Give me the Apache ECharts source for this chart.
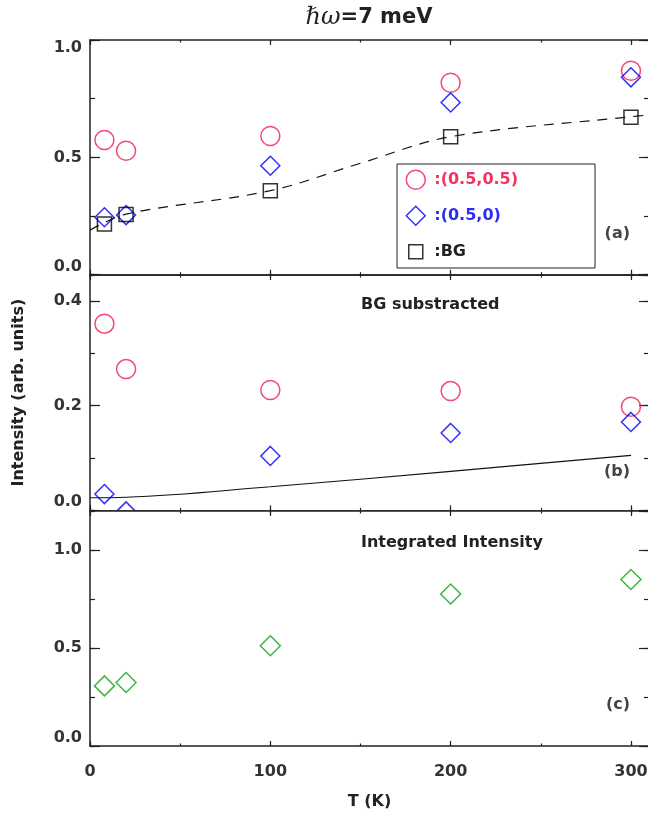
<!DOCTYPE html>
<html>
<head>
<meta charset="utf-8">
<script src="https://cdn.jsdelivr.net/npm/echarts@6/dist/echarts.min.js"></script>
<style>
  html, body { margin: 0; padding: 0; background: #fff; }
  #chart { width: 648px; height: 817px; }
</style>
</head>
<body>
<div id="chart"></div>
<script>
// temperatures (K)
const temps = [8, 20, 100, 200, 300];

// (a) raw intensities
const aPeak55 = [0.574, 0.528, 0.591, 0.818, 0.869];
const aPeak50 = [0.245, 0.254, 0.464, 0.734, 0.841];
const aBG = [0.216, 0.257, 0.358, 0.588, 0.671];
const aLineT = [0, 20, 100, 150, 200, 300, 308];
const aLineV = [0.190, 0.258, 0.358, 0.475, 0.588, 0.673, 0.679];

// (b) BG substracted
const bPeak55 = [0.357, 0.270, 0.230, 0.228, 0.198];
const bPeak50 = [0.031, -0.002, 0.104, 0.148, 0.169];
const bLineT = [0, 20, 100, 200, 300];
const bLineV = [0.024, 0.025, 0.045, 0.0745, 0.105];

// (c) integrated intensity
const cInteg = [0.307, 0.324, 0.512, 0.776, 0.850];

const FONT = 'DejaVu Sans';
const AX = '#222';
const RED = '#f01e50', BLUE = '#0000f0', GREEN = '#12a012';

function pairs(xs, ys) { return xs.map((x, i) => [x, ys[i]]); }

// 4 x axes per grid: bottom/top majors, bottom/top minors
function xAxes(g, showLabels) {
  const base = {
    type: 'value', gridIndex: g, min: 0, max: 310, splitLine: { show: false },
    axisLine: { onZero: false, lineStyle: { color: AX, width: 1.5 } }
  };
  const mk = (pos, interval, len, line, labels) => Object.assign({}, base, {
    position: pos, interval: interval, z: g === 2 ? 5 : 0,
    axisLine: Object.assign({}, base.axisLine, { show: line }),
    axisTick: { inside: true, length: len, lineStyle: { color: AX, width: 1.2 } },
    axisLabel: labels ? {
      show: true, margin: 18, fontFamily: FONT, fontWeight: 'bold', fontSize: 16, color: '#333',
      showMaxLabel: false, formatter: v => (v % 100 === 0 ? String(v) : '')
    } : { show: false }
  });
  const bottom = mk('bottom', 100, 5, true, showLabels);
  if (showLabels) {
    bottom.name = 'T (K)';
    bottom.nameLocation = 'middle';
    bottom.nameGap = 48;
    bottom.nameTextStyle = { fontFamily: FONT, fontWeight: 'bold', fontSize: 16, color: '#222' };
  }
  return [bottom, mk('top', 100, 5, true, false), mk('bottom', 50, 2.5, false, false), mk('top', 50, 2.5, false, false)];
}

// 4 y axes per grid: left/right majors, left/right minors
function yAxes(g, max, major, minor, topAlignMax, name) {
  const mk = (pos, interval, len, line, labels) => ({
    type: 'value', gridIndex: g, min: 0, max: max, position: pos, interval: interval,
    z: g === 2 ? 5 : 0,
    splitLine: { show: false },
    axisLine: { show: line, onZero: false, lineStyle: { color: AX, width: 1.5 } },
    axisTick: { inside: true, length: len, lineStyle: { color: AX, width: 1.2 } },
    axisLabel: labels ? {
      show: true, margin: 8, fontFamily: FONT, fontWeight: 'bold', fontSize: 16, color: '#333',
      showMaxLabel: topAlignMax, verticalAlignMinLabel: 'bottom',
      verticalAlignMaxLabel: topAlignMax ? 'top' : null,
      formatter: v => v.toFixed(1)
    } : { show: false }
  });
  const left = mk('left', major, 10, true, true);
  if (name) {
    left.name = name;
    left.nameLocation = 'middle';
    left.nameRotate = 90;
    left.nameGap = 63;
    left.nameTextStyle = { fontFamily: FONT, fontWeight: 'bold', fontSize: 16, color: '#222' };
  }
  return [left, mk('right', major, 10, true, false), mk('left', minor, 5, false, false), mk('right', minor, 5, false, false)];
}

function scatter(name, g, ys, symbol, size, color) {
  return {
    name: name, type: 'scatter', xAxisIndex: g * 4, yAxisIndex: g * 4,
    data: pairs(temps, ys), symbol: symbol, symbolSize: size, clip: false,
    itemStyle: { color: 'transparent', borderColor: color, borderWidth: 1.5 },
    z: g === 2 ? 4 : 2
  };
}

const gridBase = { left: 90, width: 559, outerBoundsMode: 'none', containLabel: false };

const chart = echarts.init(document.getElementById('chart'), null, { renderer: 'canvas' });
chart.setOption({
  animation: false,
  backgroundColor: '#fff',
  grid: [
    Object.assign({ top: 40, height: 234.7 }, gridBase),
    Object.assign({ top: 275, height: 235.3 }, gridBase),
    Object.assign({ top: 511, height: 235, show: true, backgroundColor: '#fff', borderWidth: 0, z: 3 }, gridBase)
  ],
  xAxis: [].concat(xAxes(0, false), xAxes(1, false), xAxes(2, true)),
  yAxis: [].concat(
    yAxes(0, 1.0, 0.5, 0.25, true, null),
    yAxes(1, 0.45, 0.2, 0.1, false, 'Intensity (arb. units)'),
    yAxes(2, 1.2, 0.5, 0.25, false, null)
  ),
  legend: {
    left: 397, top: 164, orient: 'vertical', selectedMode: false,
    itemWidth: 19, itemHeight: 19, itemGap: 15.5,
    padding: [5.5, 77, 6, 8.5],
    borderColor: '#222', borderWidth: 1,
    itemStyle: { borderWidth: 1.5 },
    textStyle: { fontFamily: FONT, fontWeight: 'bold', fontSize: 16, color: '#222', padding: [0, 0, 0, 4] },
    data: [
      { name: ':(0.5,0.5)', textStyle: { color: '#f5325f' } },
      { name: ':(0.5,0)', textStyle: { color: '#2c2cf5' } },
      { name: ':BG', icon: 'path://M0,0M19,19M2.5,2.5H16.5V16.5H2.5Z' }
    ]
  },
  series: [
    {
      type: 'line', xAxisIndex: 0, yAxisIndex: 0, data: pairs(aLineT, aLineV),
      showSymbol: false, smooth: 0.35,
      lineStyle: { color: '#111', width: 1.2, type: [10, 8] }
    },
    scatter(':(0.5,0.5)', 0, aPeak55, 'circle', 19, RED),
    scatter(':(0.5,0)', 0, aPeak50, 'diamond', 19, BLUE),
    scatter(':BG', 0, aBG, 'rect', 14, '#000'),
    {
      type: 'line', xAxisIndex: 4, yAxisIndex: 4, data: pairs(bLineT, bLineV),
      showSymbol: false, smooth: 0.4,
      lineStyle: { color: '#111', width: 1.2 }
    },
    scatter(':(0.5,0.5)', 1, bPeak55, 'circle', 19, RED),
    scatter(':(0.5,0)', 1, bPeak50, 'diamond', 19, BLUE),
    scatter('integrated', 2, cInteg, 'diamond', 20, GREEN)
  ],
  graphic: [
    {
      type: 'text', x: 369, y: 18, z: 10,
      style: {
        text: '{i|ℏω}{b|=7 meV}', align: 'center', verticalAlign: 'middle',
        rich: {
          i: { fontFamily: 'DejaVu Serif', fontStyle: 'italic', fontSize: 24, fill: '#222' },
          b: { fontFamily: FONT, fontWeight: 'bold', fontSize: 21, fill: '#222' }
        }
      }
    },
    { type: 'text', x: 361, y: 305, z: 10, style: { text: 'BG substracted', fontFamily: FONT, fontWeight: 'bold', fontSize: 16, fill: '#222', verticalAlign: 'middle' } },
    { type: 'text', x: 361, y: 543, z: 10, style: { text: 'Integrated Intensity', fontFamily: FONT, fontWeight: 'bold', fontSize: 16, fill: '#222', verticalAlign: 'middle' } },
    { type: 'text', x: 630, y: 234, z: 10, style: { text: '(a)', fontFamily: FONT, fontWeight: 'bold', fontSize: 16, fill: '#444', align: 'right', verticalAlign: 'middle' } },
    { type: 'text', x: 630, y: 472, z: 10, style: { text: '(b)', fontFamily: FONT, fontWeight: 'bold', fontSize: 16, fill: '#444', align: 'right', verticalAlign: 'middle' } },
    { type: 'text', x: 630, y: 705, z: 10, style: { text: '(c)', fontFamily: FONT, fontWeight: 'bold', fontSize: 16, fill: '#444', align: 'right', verticalAlign: 'middle' } }
  ]
});
</script>
</body>
</html>
